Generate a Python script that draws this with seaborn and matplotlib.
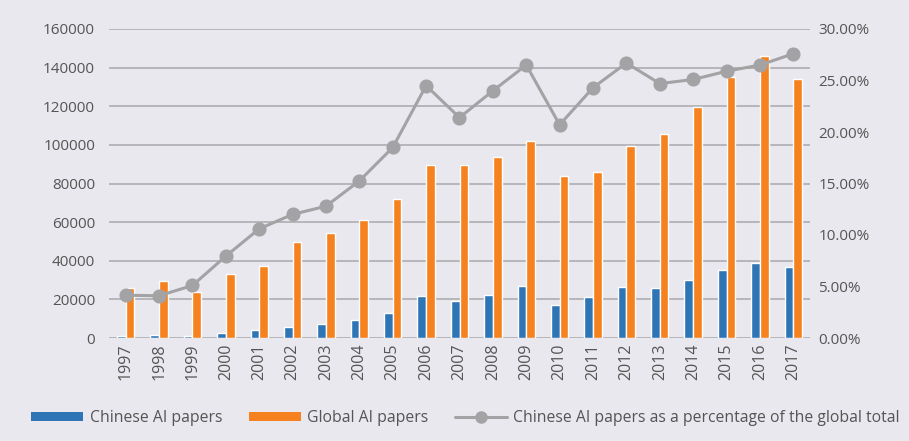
import matplotlib
matplotlib.use("Agg")
import matplotlib.pyplot as plt
from matplotlib.patches import Patch
from matplotlib.lines import Line2D
import pandas as pd
import seaborn as sns

years = [str(y) for y in range(1997, 2018)]
chinese_papers = [1000, 1400, 1200, 2600, 4000, 5900, 7100, 9300, 13100, 21900, 19000,
                  22300, 26900, 17100, 21100, 26600, 26000, 30200, 35000, 38800, 36900]
global_papers = [25800, 29700, 24000, 33100, 37300, 49600, 54500, 61100, 71800, 89600, 89400,
                 93600, 102200, 84000, 86100, 99600, 105800, 119600, 135300, 146200, 134100]
china_share_pct = [4.15, 4.1, 5.1, 7.95, 10.6, 12.0, 12.8, 15.25, 18.5, 24.5, 21.4,
                   24.0, 26.5, 20.7, 24.3, 26.7, 24.7, 25.1, 25.9, 26.5, 27.6]

labels = ["Chinese AI papers", "Global AI papers",
          "Chinese AI papers as a percentage of the global total"]

BG = "#E8E8EE"
BLUE = "#2E75B6"
ORANGE = "#F5821F"
GREY = "#A3A3A6"
TEXT = "#555555"
GRID = "#B2B2B6"

sns.set_theme(style="white")
plt.rcParams["font.family"] = ["Open Sans", "DejaVu Sans"]

bars = pd.DataFrame({
    "year": years * 2,
    "papers": chinese_papers + global_papers,
    "series": [labels[0]] * len(years) + [labels[1]] * len(years),
})
share = pd.DataFrame({"year": years, "share": china_share_pct})

fig = plt.figure(figsize=(9.09, 4.41), dpi=100, facecolor=BG)
ax = fig.add_axes([109 / 909, 1 - 338 / 441, (810 - 109) / 909, (338 - 29) / 441])
ax.set_facecolor(BG)

sns.barplot(data=bars, x="year", y="papers", hue="series", order=years,
            hue_order=labels[:2], palette=[BLUE, ORANGE], width=0.52, gap=0,
            saturation=1, legend=False, ax=ax)
ax.set_ylim(0, 160000)
ax.set_yticks(range(0, 160001, 20000))
ax.set_yticklabels([str(v) for v in range(0, 160001, 20000)])
ax.yaxis.grid(True, color=GRID, linewidth=1.3)
ax.set_axisbelow(True)
ax.set_xlim(-0.5, len(years) - 0.5)

ax2 = ax.twinx()
sns.pointplot(data=share, x="year", y="share", order=years, color=GREY,
              markers="o", markersize=8.5, linewidth=2.2, ax=ax2)
ax2.set_ylim(0, 30)
ax2.set_yticks(range(0, 31, 5))
ax2.set_yticklabels([f"{v:.2f}%" for v in range(0, 31, 5)])
ax2.set_xlim(-0.5, len(years) - 0.5)

for a in (ax, ax2):
    for s in a.spines.values():
        s.set_visible(False)
    a.set_xlabel("")
    a.set_ylabel("")
    a.tick_params(length=0, labelsize=11, labelcolor=TEXT)
ax.tick_params(axis="y", pad=10)
ax2.tick_params(axis="y", pad=6)
ax.tick_params(axis="x", rotation=90, pad=4, labelsize=11.5)

handles = [
    Patch(facecolor=BLUE, edgecolor="none"),
    Patch(facecolor=ORANGE, edgecolor="none"),
    Line2D([0], [0], color=GREY, linewidth=2.2, marker="o", markersize=8),
]
fig.legend(handles, labels, loc="center", bbox_to_anchor=(0.512, 0.052), ncol=3,
           frameon=False, fontsize=11.3, labelcolor=TEXT, handlelength=3.3,
           handleheight=0.55, columnspacing=1.7, handletextpad=0.4)

fig.savefig("out.png", dpi=100, facecolor=BG)
